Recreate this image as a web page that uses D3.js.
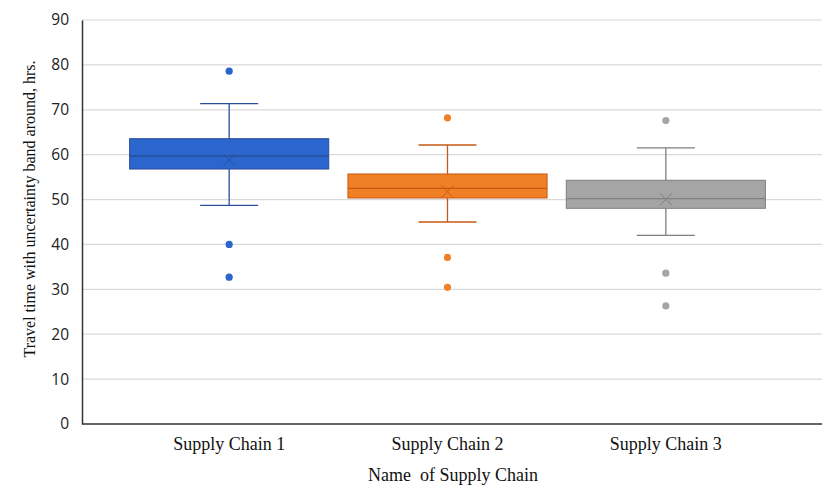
<!DOCTYPE html>
<html><head><meta charset="utf-8">
<script src="https://cdn.jsdelivr.net/npm/d3@7"></script>
<style>html,body{margin:0;padding:0;background:#fff;}svg{display:block;}</style>
</head><body>
<svg id="chart" width="822" height="485"></svg>
<script>
const categories = ["Supply Chain 1", "Supply Chain 2", "Supply Chain 3"];
const q1 = [56.8, 50.35, 48.05];
const median = [59.7, 52.5, 50.2];
const q3 = [63.56, 55.7, 54.3];
const mean = [58.8, 51.75, 50.05];
const whiskerLow = [48.7, 45.0, 42.0];
const whiskerHigh = [71.35, 62.15, 61.5];
const outliers = [[78.6, 40.0, 32.7], [68.2, 37.1, 30.45], [67.6, 33.6, 26.3]];
const yTicks = [0, 10, 20, 30, 40, 50, 60, 70, 80, 90];
const fills = ["#2B65CE", "#F07F26", "#A5A5A5"];
const strokes = ["#2A4E9A", "#C65A14", "#7F7F7F"];

(function () {
const svg = d3.select("#chart");
const plotLeft = 82, plotRight = 822, plotTop = 20, plotBottom = 424;
const y = d3.scaleLinear().domain([0, 90]).range([plotBottom, plotTop]);
const x = d3.scaleBand().domain(categories).range([120, 775]).paddingInner(0).paddingOuter(0);
const boxW = x.bandwidth() * 0.912;
const capW = 58;
const cxOf = d => x(d.c) + x.bandwidth() / 2;
const serif = "Liberation Serif, Times New Roman, serif";

// gridlines
svg.append("g").selectAll("line").data(yTicks.filter(d => d > 0)).join("line")
  .attr("x1", plotLeft).attr("x2", plotRight)
  .attr("y1", d => y(d)).attr("y2", d => y(d))
  .attr("stroke", "#D9D9D9").attr("stroke-width", 1.2);

// y axis
const yAxis = svg.append("g").attr("transform", `translate(${plotLeft},0)`)
  .call(d3.axisLeft(y).tickValues(yTicks).tickSize(0).tickPadding(13));
yAxis.select(".domain").attr("stroke", "#333").attr("stroke-width", 1.5);
yAxis.selectAll("text").attr("font-family", "Open Sans, sans-serif").attr("font-size", 15.5).attr("fill", "#222");

// x axis
const xAxis = svg.append("g").attr("transform", `translate(0,${plotBottom})`)
  .call(d3.axisBottom(x).tickSize(0).tickPadding(0));
xAxis.select(".domain").remove();
xAxis.selectAll("text").attr("y", 20).attr("dy", "0.32em")
  .attr("font-family", serif).attr("font-size", 18).attr("fill", "#111");
svg.append("line").attr("x1", plotLeft).attr("x2", plotRight).attr("y1", plotBottom).attr("y2", plotBottom)
  .attr("stroke", "#333").attr("stroke-width", 1.5);

const data = categories.map((c, i) => ({c, i}));
const g = svg.append("g").selectAll("g").data(data).join("g");

// whiskers
g.append("line").attr("x1", cxOf).attr("x2", cxOf)
  .attr("y1", d => y(whiskerHigh[d.i])).attr("y2", d => y(q3[d.i]))
  .attr("stroke", d => strokes[d.i]).attr("stroke-width", 1.3);
g.append("line").attr("x1", cxOf).attr("x2", cxOf)
  .attr("y1", d => y(q1[d.i])).attr("y2", d => y(whiskerLow[d.i]))
  .attr("stroke", d => strokes[d.i]).attr("stroke-width", 1.3);
[whiskerHigh, whiskerLow].forEach(arr => {
  g.append("line").attr("x1", d => cxOf(d) - capW / 2).attr("x2", d => cxOf(d) + capW / 2)
    .attr("y1", d => y(arr[d.i])).attr("y2", d => y(arr[d.i]))
    .attr("stroke", d => strokes[d.i]).attr("stroke-width", 1.3);
});

// box
g.append("rect").attr("x", d => x(d.c) + (x.bandwidth() - boxW) / 2).attr("width", boxW)
  .attr("y", d => y(q3[d.i])).attr("height", d => y(q1[d.i]) - y(q3[d.i]))
  .attr("fill", d => fills[d.i]).attr("stroke", d => strokes[d.i]).attr("stroke-width", 1);
// median
g.append("line").attr("x1", d => x(d.c) + (x.bandwidth() - boxW) / 2).attr("x2", d => x(d.c) + (x.bandwidth() + boxW) / 2)
  .attr("y1", d => y(median[d.i])).attr("y2", d => y(median[d.i]))
  .attr("stroke", d => strokes[d.i]).attr("stroke-width", 1.3);
// mean marker X
const m = 6;
g.append("path").attr("d", d => {
  const cx = cxOf(d), cy = y(mean[d.i]);
  return `M${cx - m},${cy - m}L${cx + m},${cy + m}M${cx - m},${cy + m}L${cx + m},${cy - m}`;
}).attr("stroke", d => strokes[d.i]).attr("stroke-width", 1).attr("fill", "none");

// outliers
g.selectAll("circle").data(d => outliers[d.i].map(v => ({v, c: d.c, i: d.i}))).join("circle")
  .attr("cx", cxOf).attr("cy", d => y(d.v)).attr("r", 3.6)
  .attr("fill", d => fills[d.i]);

// axis titles
svg.append("text").attr("x", 453).attr("y", 475).attr("dy", "0.32em").attr("text-anchor", "middle")
  .attr("font-family", serif).attr("font-size", 18).attr("fill", "#111")
  .style("white-space", "pre")
  .text("Name  of Supply Chain");
svg.append("text").attr("transform", "translate(30,209) rotate(-90)").attr("dy", "0.32em").attr("text-anchor", "middle")
  .attr("font-family", serif).attr("font-size", 16).attr("fill", "#111")
  .text("Travel time with uncertainty band around, hrs.");
})();
</script>
</body></html>
